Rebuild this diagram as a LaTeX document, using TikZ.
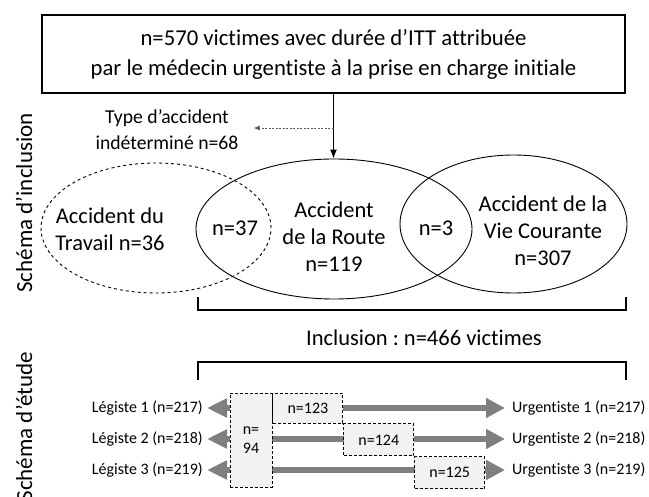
\documentclass[tikz,border=0pt]{standalone}
\usepackage{fontspec}
\setmainfont{Carlito}[Ligatures={NoCommon}]
\usetikzlibrary{arrows, arrows.meta}
\usetikzlibrary{shapes.geometric}
\usetikzlibrary{positioning}
\definecolor{flowgray}{HTML}{7F7F7F}
\definecolor{cellgray}{HTML}{F2F2F2}
\tikzset{big/.style={font=\fontsize{22.5}{27}\selectfont, align=center, inner sep=0pt}}
\tikzset{side/.style={font=\fontsize{23}{28}\selectfont, rotate=90, inner sep=0pt}}
\tikzset{lab/.style={font=\fontsize{16}{19}\selectfont, inner sep=0pt}}
\tikzset{zone/.style={ellipse, draw, line width=0.9pt, inner sep=0pt}}
\tikzset{cellbox/.style={draw, dash pattern=on 3pt off 2pt, line width=0.9pt, fill=cellgray, inner sep=0pt, font=\fontsize{16}{19}\selectfont, align=center}}
\tikzset{flow/.style={line width=6.5pt, flowgray, {Triangle[length=20pt,width=18pt]}-{Triangle[length=19pt,width=19pt]}}}
\frenchspacing

\begin{document}
\begin{tikzpicture}[x=1pt, y=-1pt]
    \useasboundingbox (0,0) rectangle (649,497);
    %Inclusion
    \node[draw, line width=1.2pt, minimum width=583pt, minimum height=78pt, font=\fontsize{22.7}{30}\selectfont, align=center] (itt) at (333.5,54)
        {n=570 victimes avec durée d’ITT attribuée\\par le médecin urgentiste à la prise en charge initiale};
    \node[zone, dashed, minimum width=230pt, minimum height=130pt] (travail) at (156,228) {};
    \node[zone, minimum width=276pt, minimum height=140pt] (route) at (334,229) {};
    \node[zone, minimum width=227pt, minimum height=138pt] (vie) at (513.5,224) {};
    \node[big] (travailtxt) at (110,229) {Accident du\\Travail n=36};
    \node[big] (inter37) at (235,228) {n=37};
    \node[big] (routetxt) at (334,237) {Accident\\de la Route\\n=119};
    \node[big] (inter3) at (436,228) {n=3};
    \node[big] (vietxt) at (543,231) {Accident de la\\Vie Courante\\n=307};
    \node[font=\fontsize{19.7}{26}\selectfont, align=center, inner sep=0pt] (type) at (167,130) {Type d’accident\\indéterminé n=68};
    \coordinate (split) at (itt.south |- 0,128);
    \draw[line width=1.2pt, -{Latex[length=9pt,width=7pt]}] (itt.south) -- (itt.south |- route.north);
    \draw[flowgray!70!black, line width=0.7pt, dash pattern=on 2pt off 1.5pt, -{Latex[length=6pt,width=5pt]}, shorten >=15pt] (split) -- (split -| type.east);
    \draw[line width=1.1pt] (198,297) -- (198,310) -- (626,310) -- (626,297);
    \node[big] (inclusion) at (424,338) {Inclusion : n=466 victimes};
    \draw[line width=1.1pt] (198,380) -- (198,362) -- (626,362) -- (626,380);
    %Etude
    \node[lab, anchor=east] (leg1) at (203,408) {Légiste 1 (n=217)};
    \node[lab, anchor=east] (leg2) at (203,439) {Légiste 2 (n=218)};
    \node[lab, anchor=east] (leg3) at (203,470) {Légiste 3 (n=219)};
    \node[lab, anchor=west] (urg1) at (512,408) {Urgentiste 1 (n=217)};
    \node[lab, anchor=west] (urg2) at (512,439) {Urgentiste 2 (n=218)};
    \node[lab, anchor=west] (urg3) at (512,470) {Urgentiste 3 (n=219)};
    \foreach \i in {1,2,3}
        \draw[flow, shorten <=4pt, shorten >=7pt] (leg\i.east) -- (urg\i.west);
    \node[cellbox, minimum width=42pt, minimum height=94pt] (n94) at (251,440) {n=\\94};
    \node[cellbox, anchor=north west, minimum width=70pt, minimum height=30pt] (n123) at (n94.north east) {n=123};
    \node[cellbox, anchor=north west, minimum width=70pt, minimum height=32pt] (n124) at (n123.south east) {n=124};
    \node[cellbox, anchor=north west, minimum width=70pt, minimum height=32pt] (n125) at (n124.south east) {n=125};
    %Axes
    \node[side] (schincl) at (24,203) {Schéma d’inclusion};
    \node[side, anchor=east] (schetude) at (24,352) {Schéma d’étude};
  \end{tikzpicture}
\end{document}
